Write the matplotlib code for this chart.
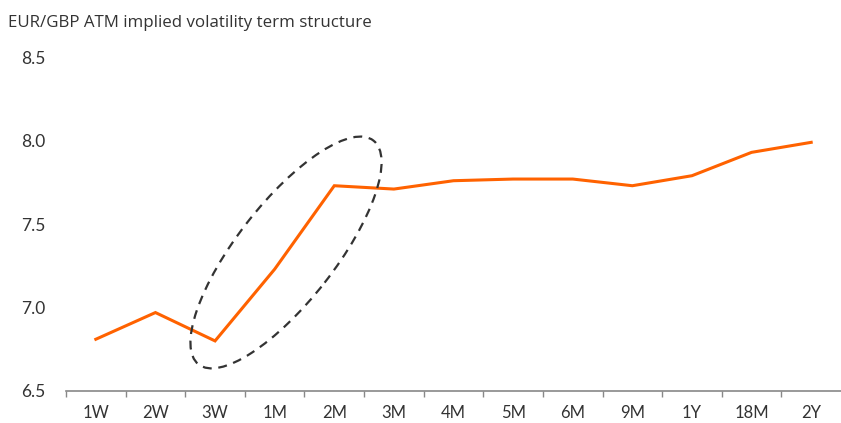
import matplotlib
matplotlib.use("Agg")
import matplotlib.pyplot as plt
import matplotlib.transforms as mtransforms
from matplotlib.patches import Ellipse

# tenors and ATM implied vol (%)
tenors = ["1W", "2W", "3W", "1M", "2M", "3M", "4M", "5M", "6M", "9M", "1Y", "18M", "2Y"]
vols = [6.81, 6.97, 6.80, 7.23, 7.73, 7.71, 7.76, 7.77, 7.77, 7.73, 7.79, 7.93, 7.99]

plt.rcParams['font.family'] = ['Lato', 'DejaVu Sans']

fig = plt.figure(figsize=(8.41, 4.23), dpi=100)
ax = fig.add_axes([0.0785, 0.0757, 0.9215, 0.789])

x = list(range(len(tenors)))
ax.plot(x, vols, color="#FF6200", lw=2.2, solid_joinstyle="miter", zorder=3)

ax.set_xlim(-0.5, len(tenors) - 0.5)
ax.set_ylim(6.5, 8.5)
ax.set_yticks([6.5, 7.0, 7.5, 8.0, 8.5])
ax.set_yticklabels(["6.5", "7.0", "7.5", "8.0", "8.5"])
ax.set_xticks(x)
ax.set_xticklabels(tenors)
ax.set_xticks([i + 0.5 for i in x[:-1]] + [-0.5], minor=True)

for s in ["top", "right", "left"]:
    ax.spines[s].set_visible(False)
ax.spines["bottom"].set_color("#888888")
ax.spines["bottom"].set_linewidth(1.2)

ax.tick_params(axis="y", length=0, pad=15, labelsize=12.5, labelcolor="#333333")
ax.tick_params(axis="x", which="major", length=0, pad=10, labelsize=12, labelcolor="#333333")
ax.tick_params(axis="x", which="minor", length=4, width=1, color="#888888")

# dashed ellipse around the 3W-2M jump, sized in inches
tr = fig.dpi_scale_trans + mtransforms.ScaledTranslation(3.19, 7.33, ax.transData)
ell = Ellipse((0, 0), 2.84, 0.98, angle=52, transform=tr, fill=False,
              edgecolor="#333333", lw=1.6, linestyle=(0, (4, 3)), zorder=4)
ax.add_patch(ell)

fig.text(0.009, 0.945, "EUR/GBP ATM implied volatility term structure",
         fontsize=12.2, color="#333333", va="center", ha="left",
         family=["Open Sans", "DejaVu Sans"])

fig.savefig("out.png", dpi=100)
